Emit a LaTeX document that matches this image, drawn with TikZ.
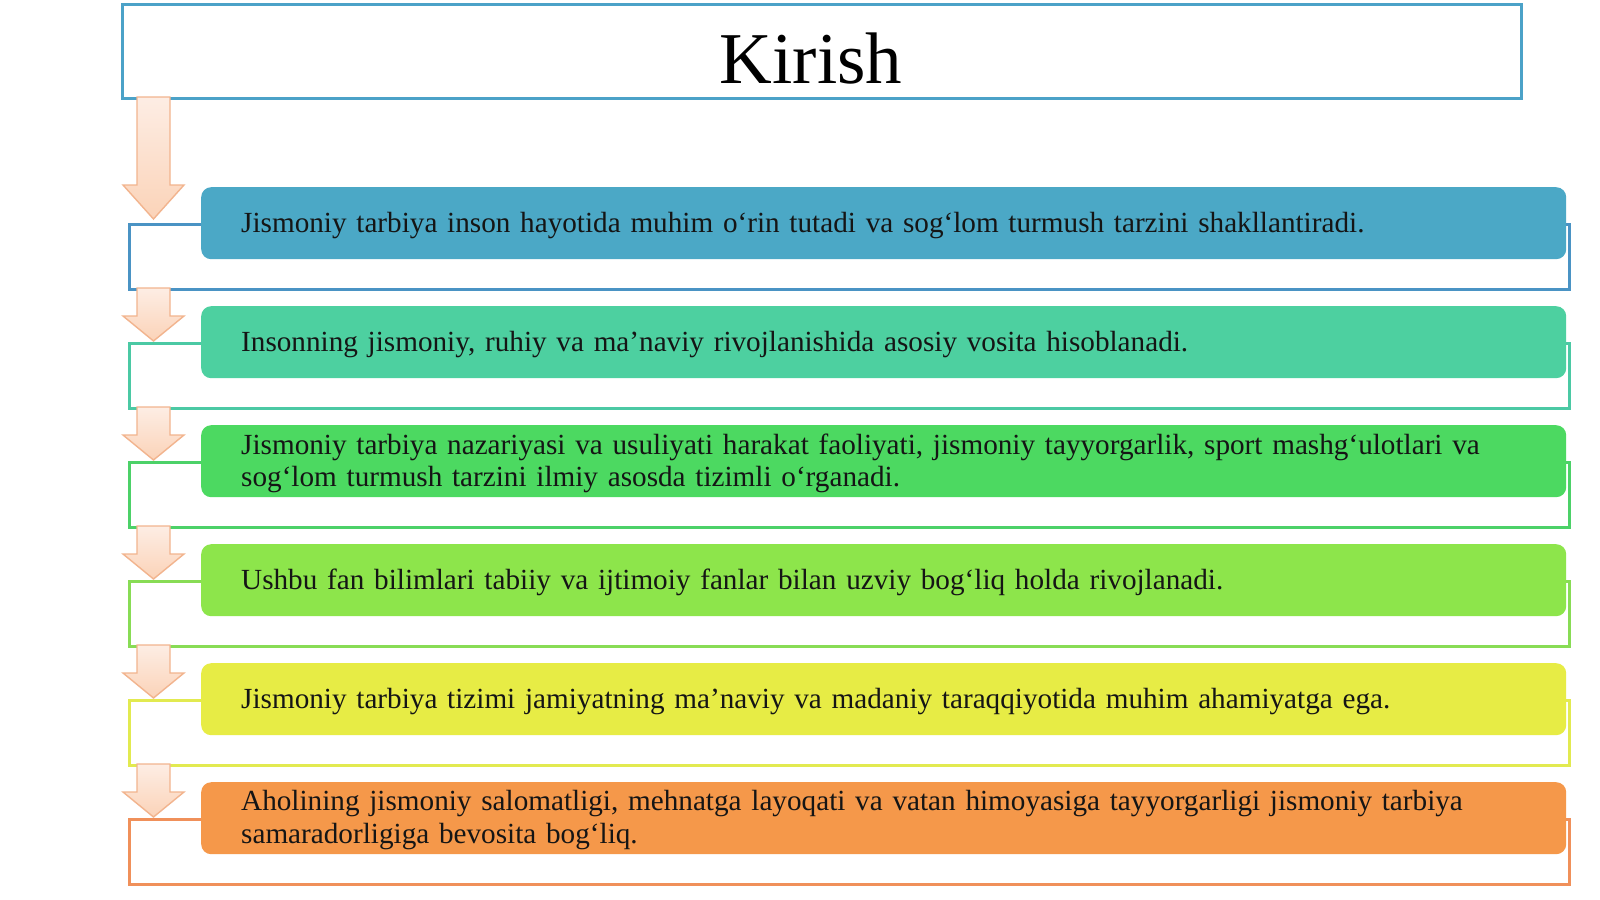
\documentclass[tikz,border=0pt]{standalone}
\usepackage{fontspec}
\setmainfont{Liberation Serif}
\usetikzlibrary{calc}
\definecolor{titleblue}{HTML}{4BA2C8}
\definecolor{boxA}{HTML}{4BA8C6}\definecolor{lineA}{HTML}{4A93C4}
\definecolor{boxB}{HTML}{4DD0A0}\definecolor{lineB}{HTML}{4BC9A4}
\definecolor{boxC}{HTML}{4CD961}\definecolor{lineC}{HTML}{4CD168}
\definecolor{boxD}{HTML}{8DE54B}\definecolor{lineD}{HTML}{88DC55}
\definecolor{boxE}{HTML}{E7EC45}\definecolor{lineE}{HTML}{E2EA50}
\definecolor{boxF}{HTML}{F5984A}\definecolor{lineF}{HTML}{F0905A}
\definecolor{arrtop}{HTML}{FDEDE4}\definecolor{arrbot}{HTML}{FBD3B8}
\definecolor{arrline}{HTML}{F2B48E}
\definecolor{txt}{HTML}{151515}
\begin{document}
\begin{tikzpicture}[x=1pt,y=-1pt,
  titlebox/.style={draw=titleblue,line width=2.8pt,fill=white},
  outlinebox/.style={draw,line width=2.8pt,fill=white,anchor=north west,minimum width=1440pt,minimum height=65pt,inner sep=0pt},
  itembox/.style={rounded corners=10pt,anchor=north west,minimum width=1365pt,minimum height=72pt,inner sep=0pt},
  itemtext/.style={anchor=west,text width=1300pt,inner sep=0pt,align=left,text=txt,
    font=\fontsize{29.2}{32.6}\selectfont},
  blockarr/.style={draw=arrline,line width=1.4pt,top color=arrtop,bottom color=arrbot}
]
\useasboundingbox (0,0) rectangle (1600,899);
\fill[white] (0,0) rectangle (1600,899);

% title
\node[titlebox,anchor=north west,minimum width=1399pt,minimum height=94pt,inner sep=0pt] (title) at (121,3) {};
\node[font=\fontsize{73}{80}\selectfont,text=black,anchor=base,inner sep=0pt] (titletext) at (811,84) {Kirish};

% outline rectangles
\foreach \i/\c in {0/lineA,1/lineB,2/lineC,3/lineD,4/lineE,5/lineF}{
  \node[outlinebox,draw=\c] (o\i) at (128,{223+119*\i}) {};
}

% block arrows
\newcommand{\blockarrow}[3]{%
  \path[blockarr] (137,#1) -- (170,#1) -- (170,#2) -- (184,#2) -- (153.5,#3) -- (123,#2) -- (137,#2) -- cycle;}
\blockarrow{97}{185}{219}
\foreach \i in {1,...,5}{
  \pgfmathsetmacro{\tp}{288+119*(\i-1)}
  \pgfmathsetmacro{\hs}{\tp+28}
  \pgfmathsetmacro{\tip}{\tp+53}
  \blockarrow{\tp}{\hs}{\tip}
}

% item boxes
\foreach \i/\c in {1/boxA,2/boxB,3/boxC,4/boxD,5/boxE,6/boxF}{
  \node[itembox,fill=\c] (b\i) at (201,{187+119*(\i-1)}) {};
}
\node[itemtext] (t1) at ($(b1.west)+(40,2)$) {Jismoniy tarbiya inson hayotida muhim o‘rin tutadi va sog‘lom turmush tarzini shakllantiradi.};
\node[itemtext] (t2) at ($(b2.west)+(40,2)$) {Insonning jismoniy, ruhiy va ma’naviy rivojlanishida asosiy vosita hisoblanadi.};
\node[itemtext] (t3) at ($(b3.west)+(40,2)$) {Jismoniy tarbiya nazariyasi va usuliyati harakat faoliyati, jismoniy tayyorgarlik, sport mashg‘ulotlari va\\sog‘lom turmush tarzini ilmiy asosda tizimli o‘rganadi.};
\node[itemtext] (t4) at ($(b4.west)+(40,2)$) {Ushbu fan bilimlari tabiiy va ijtimoiy fanlar bilan uzviy bog‘liq holda rivojlanadi.};
\node[itemtext] (t5) at ($(b5.west)+(40,2)$) {Jismoniy tarbiya tizimi jamiyatning ma’naviy va madaniy taraqqiyotida muhim ahamiyatga ega.};
\node[itemtext] (t6) at ($(b6.west)+(40,2)$) {Aholining jismoniy salomatligi, mehnatga layoqati va vatan himoyasiga tayyorgarligi jismoniy tarbiya\\samaradorligiga bevosita bog‘liq.};
\end{tikzpicture}
\end{document}
